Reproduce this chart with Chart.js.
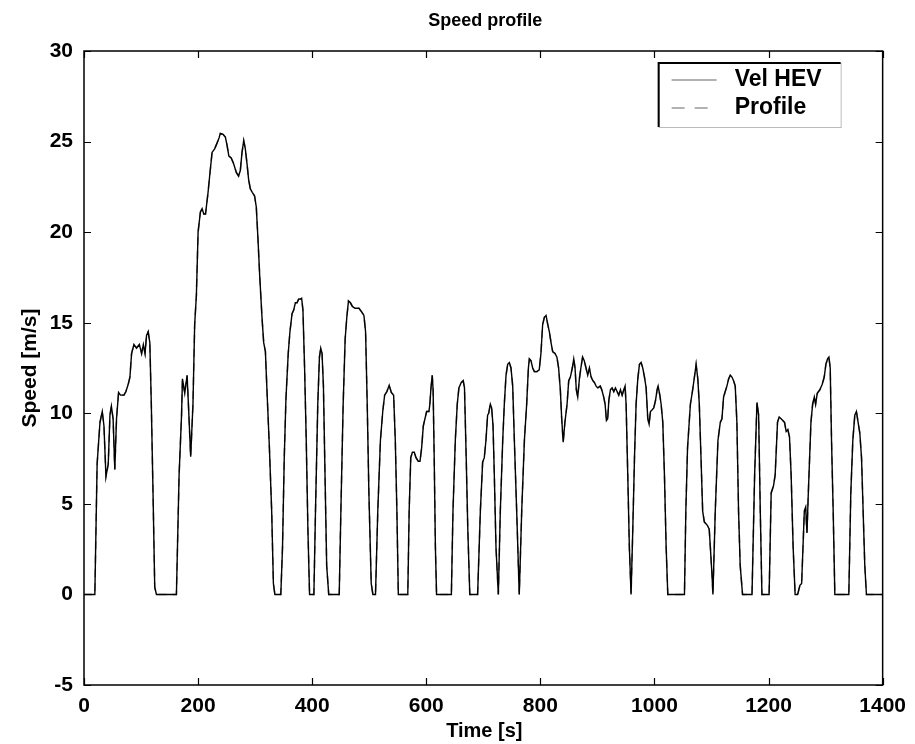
<!DOCTYPE html>
<html><head><meta charset="utf-8">
<script src="https://cdn.jsdelivr.net/npm/chart.js@4/dist/chart.umd.min.js"></script>
<style>html,body{margin:0;padding:0;background:#fff}#wrap{width:915px;height:744px}</style>
</head><body><div id="wrap"><canvas id="c" width="915" height="744"></canvas></div>
<script>
// Time [s]
const timeS = [
0,19,23,28,32,35,38.5,42.5,45.5,48,51,54,57,60.6,64,70,73.5,77.5,80.5,83.4,87.5,92,97,101,104,107,109.6,112.5,115.4,118,121,124,127,
162,166.7,171,172.6,176.6,180.7,183.6,187,191,194,197,200,204,207,210,213,217.5,220,224.5,229,233,236.7,239,243.7,247.8,250.7,254,258,262,267,271,274,277,280,282.8,285.7,288.6,291.5,295,299,302,305,308,312,315,318,320.7,325,329,332,334.6,
345,348,351,354,358,361,364.7,367.6,370.5,373.4,376.3,379.2,381.5,383.8,386.7,389.6,392.5,395.4,
403,405.8,409.8,412.7,415,417.3,419.7,422.5,425.4,429,
447.4,450.3,454.3,457.8,460.7,463.6,467,470.5,475,479,482,486.7,490.7,493.6,496.5,499.4,503.5,506.4,
511,515,519.6,523.7,527,531,535,538.7,542.8,545.7,548.5,551,
567.6,570,572.8,575.7,579,582,586,589,591.9,594.8,597.7,600.6,604.6,606.3,608,610.4,612,613.9,616,618,
644,646.8,650.9,654.3,657.2,661.3,664.7,667,670,672.8,676.3,
690,694.8,698.8,701.7,704.6,707.5,709.4,712.3,714.6,717,719.3,722.2,726.3,
729.8,734,736.8,739.8,742.7,745.6,748.5,751.5,754.4,758.5,763,
767.3,772,776,779,780.7,783.6,786.5,789.5,794,798,801,804,807,810,813,815.8,818.7,821.6,825.7,829,832,835,837.4,840,843,846.8,849.7,852.6,856,858.5,860.8,863,865.5,868.4,871,874,877,880,883,886,889,892,894.7,897.7,900.6,905,907.6,911,913.5,915.8,918,920,922.8,925.7,928.7,931.6,934.5,937.4,940.4,943.3,946.3,948.5,950.3,953.2,956,959,
962,965,967.8,970.8,973.7,976.6,979.5,982.5,985.4,988.3,990.6,993,996,998.8,1001.8,1004.7,1006.4,1009.4,1011.7,1014.6,1017.5,1020.5,1023.4,
1052.6,1055,1058,1063,1067,1070.5,1073,1076,1078.6,1081.6,1084.5,1087.4,1090.3,1093,1096,1098,1101,1102.5,
1106.6,1111.3,1115.4,1118.3,1121.2,1124.1,1127,1130,1132.9,1135.8,1138.7,1141.6,1144.5,1147.4,1150.3,1154.4,
1171,1175.6,1179.7,1182.6,1185.5,1188.4,
1201,1204.6,1208.7,1211.6,1215.7,1218.6,1222,1225,1228,1230.9,1233.8,1236.7,1239.6,1243.1,1246.6,
1251,1255,1258,1262.7,1265,1267.4,1269.7,1274.3,1277.3,1280.2,1282.5,1285.4,1290,1294.1,1297.6,1300.5,1303.4,1305.8,1308.1,1310.4,1313.3,1316.2,
1340.7,1344.2,1347.7,1351.2,1354,1357,1360,1363,1365.8,1368.7,1371.6,1400
];
// Speed of the drive-cycle profile [m/s]
const profileSpeed = [
0,0,7.2,9.5,10.1,9.3,6.5,7.2,9.9,10.4,9.7,6.9,9.7,11.15,11.0,11.0,11.2,11.6,12.0,13.3,13.8,13.6,13.8,13.3,13.8,13.3,14.3,14.5,13.9,10.5,5.6,0.4,0,
0,6.6,9.9,11.9,11.1,12.1,10.1,7.6,10.5,14.9,16.5,20.0,21.1,21.3,21.0,21.0,22.2,23.0,24.4,24.6,24.9,25.2,25.45,25.4,25.25,24.8,24.2,24.1,23.8,23.3,23.1,23.4,24.4,25.05,24.6,23.8,22.9,22.4,22.2,22.0,21.4,19.6,17.6,15.3,13.9,13.4,11.3,8.1,4.6,0.6,0,
0,2.6,7.5,10.8,13.3,14.5,15.5,15.7,16.1,16.1,16.3,16.3,16.35,15.7,12.5,8.5,3.6,0,
0,4.6,10.5,13.1,13.6,13.3,11.5,6.6,1.6,0,
0,4.6,10.5,14.1,15.3,16.2,16.1,15.9,15.8,15.8,15.8,15.6,15.4,14.5,10.5,5.6,0.6,0,
0,4.6,8.5,10.1,11.0,11.2,11.55,11.15,11.0,8.5,4.6,0,
0,4.6,7.55,7.85,7.85,7.55,7.35,7.35,8.1,9.3,9.7,10.1,10.1,10.5,11.3,12.1,11.3,7.55,2.6,0,
0,4.6,8.5,10.5,11.4,11.7,11.8,11.4,7.55,3.6,0,
0,4.6,7.3,7.55,8.5,9.9,10.0,10.5,10.3,9.33,6.57,2.6,0,
4.6,8.5,10.5,12.1,12.7,12.8,12.5,11.5,8.5,4.6,0,
4.6,8.5,10.5,12.5,13.0,12.9,12.5,12.3,12.3,12.4,13.3,14.9,15.3,15.4,14.9,14.5,13.9,13.4,13.3,13.1,12.5,11.3,9.7,8.4,9.5,10.5,11.8,12.0,12.5,13.0,12.5,11.3,10.9,11.9,12.5,13.1,12.9,12.5,12.1,12.5,12.0,11.8,11.7,11.5,11.4,11.5,11.3,10.9,10.5,9.6,9.7,10.7,11.3,11.4,11.2,11.4,11.2,11.0,11.3,11.0,11.3,11.5,10.5,6.6,2.6,0,
3.6,7.55,10.5,11.9,12.7,12.8,12.5,12.0,11.4,9.7,9.4,10.1,10.2,10.3,10.7,11.3,11.5,11.0,10.5,9.5,6.6,2.6,0,
0,4.6,8.1,10.5,11.3,12.1,12.7,11.9,10.5,7.55,4.6,4.0,3.9,3.8,3.6,2.6,1.0,0,
4.6,8.5,9.5,9.7,10.9,11.2,11.5,11.9,12.1,12.0,11.8,11.5,9.5,4.6,1.6,0,
0,6.6,10.6,9.9,4.6,0,
0,5.6,6.0,6.6,9.5,9.8,9.7,9.6,9.5,9.0,9.1,8.7,6.6,2.6,0,
0,0.5,0.6,4.6,4.8,3.4,5.6,9.5,10.5,10.9,10.5,11.1,11.3,11.6,12.0,12.7,13.0,13.1,12.5,8.5,4.6,0,
0,5.6,8.5,9.9,10.1,9.5,8.9,7.55,4.6,1.6,0,0
];
// The simulated HEV speed follows the profile so closely that the two lines coincide in the picture
const velHevSpeed = profileSpeed.slice();

const xTicks = [0,200,400,600,800,1000,1200,1400];
const yTicks = [-5,0,5,10,15,20,25,30];
const seriesLabels = ['Vel HEV','Profile'];
const chartTitle = 'Speed profile';
const xTitle = 'Time [s]';
const yTitle = 'Speed [m/s]';

const FONT = '"Liberation Sans", Arial, Helvetica, sans-serif';
const toPts = arr => timeS.map((t,i)=>({x:t,y:arr[i]}));

const frame = {
  id:'frame',
  afterDraw(chart){
    const c = chart.ctx, a = chart.chartArea;
    const xs = chart.scales.x, ys = chart.scales.y;
    c.save();
    c.strokeStyle = '#000'; c.lineWidth = 1.5;
    c.strokeRect(a.left, a.top, a.right - a.left, a.bottom - a.top);
    c.lineWidth = 1.2;
    c.beginPath();
    xTicks.forEach(v=>{
      const px = Math.round(xs.getPixelForValue(v)) + 0.5;
      c.moveTo(px, a.bottom); c.lineTo(px, a.bottom - 7);
      c.moveTo(px, a.top); c.lineTo(px, a.top + 7);
    });
    yTicks.forEach(v=>{
      const py = Math.round(ys.getPixelForValue(v)) + 0.5;
      c.moveTo(a.left, py); c.lineTo(a.left + 7, py);
      c.moveTo(a.right, py); c.lineTo(a.right - 7, py);
    });
    c.stroke();
    // title
    c.fillStyle = '#000';
    c.textAlign = 'center'; c.textBaseline = 'middle';
    c.font = 'bold 18px ' + FONT;
    c.fillText(chartTitle, (a.left + a.right)/2 + 2, 21);
    // axis titles
    c.font = 'bold 20px ' + FONT;
    c.fillText(xTitle, (a.left + a.right)/2 + 1, 731);
    c.save();
    c.translate(30, (a.top + a.bottom)/2);
    c.rotate(-Math.PI/2);
    c.font = 'bold 21px ' + FONT;
    c.fillText(yTitle, 0, 0);
    c.restore();
    // legend
    const lx = a.right - 224, ly = a.top + 12, lw = 182, lh = 64;
    c.fillStyle = '#fff';
    c.fillRect(lx, ly, lw, lh);
    c.strokeStyle = '#bbb'; c.lineWidth = 1;
    c.strokeRect(lx + 0.5, ly + 0.5, lw, lh);
    c.strokeStyle = '#000'; c.lineWidth = 2;
    c.beginPath();
    c.moveTo(lx, ly + lh); c.lineTo(lx, ly); c.lineTo(lx + lw, ly);
    c.stroke();
    c.strokeStyle = '#999'; c.lineWidth = 1.5;
    c.beginPath(); c.moveTo(lx + 13, ly + 17); c.lineTo(lx + 58, ly + 17); c.stroke();
    c.setLineDash([13,10]);
    c.beginPath(); c.moveTo(lx + 13, ly + 45); c.lineTo(lx + 58, ly + 45); c.stroke();
    c.setLineDash([]);
    c.fillStyle = '#000'; c.textAlign = 'left';
    c.font = 'bold 23px ' + FONT;
    c.fillText(seriesLabels[0], lx + 76, ly + 17);
    c.fillText(seriesLabels[1], lx + 76, ly + 45);
    c.restore();
  }
};

const tickFont = {family: FONT, size: 21, weight: 'bold'};
const plainNum = v => String(v);
new Chart(document.getElementById('c'), {
  type: 'line',
  data: {datasets: [
    {label: seriesLabels[0], data: toPts(velHevSpeed), borderColor: '#000', borderWidth: 1.4, pointRadius: 0, tension: 0, order: 0},
    {label: seriesLabels[1], data: toPts(profileSpeed), borderColor: '#808080', borderWidth: 1.6, borderDash: [8,6], pointRadius: 0, tension: 0, order: 1}
  ]},
  options: {
    responsive: false, animation: false,
    layout: {padding: {top: 51, right: 28, bottom: 0, left: 0}},
    plugins: {legend: {display: false}, title: {display: false}, tooltip: {enabled: false}},
    scales: {
      x: {type: 'linear', min: 0, max: 1400,
          afterBuildTicks: s => { s.ticks = xTicks.map(v => ({value: v})); },
          afterFit: s => { s.height = 59; },
          grid: {display: false, drawTicks: false}, border: {display: false},
          ticks: {padding: 9, font: tickFont, color: '#000', maxRotation: 0, autoSkip: false, callback: plainNum}},
      y: {type: 'linear', min: -5, max: 30,
          afterBuildTicks: s => { s.ticks = yTicks.map(v => ({value: v})); },
          afterFit: s => { s.width = 84; },
          grid: {display: false, drawTicks: false}, border: {display: false},
          ticks: {padding: 11, font: tickFont, color: '#000', autoSkip: false, callback: plainNum}}
    }
  },
  plugins: [frame]
});
</script></body></html>
